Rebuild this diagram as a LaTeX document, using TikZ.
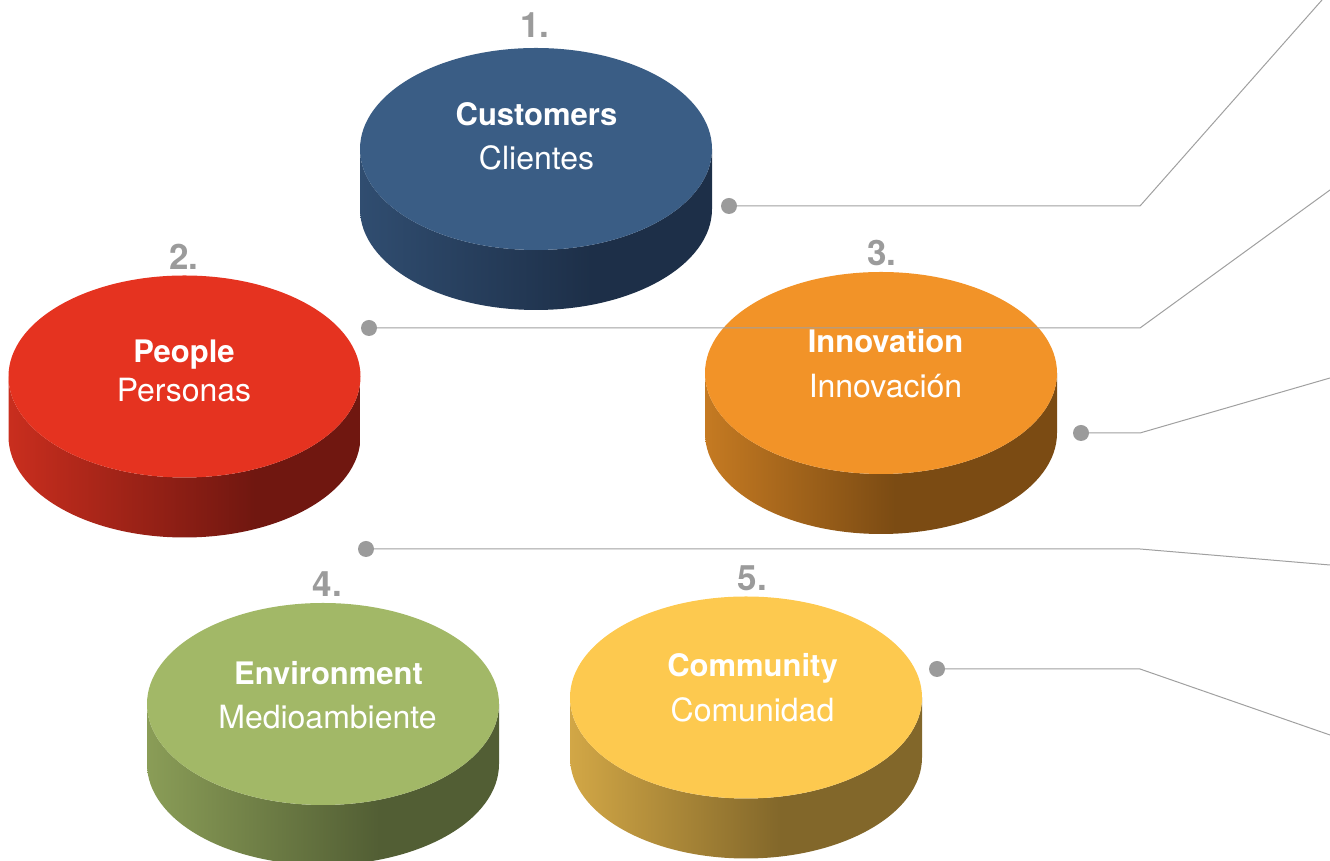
\documentclass[tikz,border=0pt]{standalone}
\usepackage{fontspec}
\setmainfont{TeX Gyre Heros}
\definecolor{blueT}{HTML}{3A5D85}
\definecolor{blueL}{HTML}{304D70}
\definecolor{blueD}{HTML}{1D2F48}
\definecolor{redT}{HTML}{E53320}
\definecolor{redL}{HTML}{C92E1E}
\definecolor{redD}{HTML}{701710}
\definecolor{orT}{HTML}{F29328}
\definecolor{orL}{HTML}{C57A22}
\definecolor{orD}{HTML}{7B4B13}
\definecolor{grT}{HTML}{A2B867}
\definecolor{grL}{HTML}{8A9D57}
\definecolor{grD}{HTML}{525E34}
\definecolor{yeT}{HTML}{FDC94F}
\definecolor{yeL}{HTML}{D2A746}
\definecolor{yeD}{HTML}{82672A}
\definecolor{numgray}{HTML}{9B9B9B}
\definecolor{linegray}{HTML}{A0A0A0}
\pgfdeclarehorizontalshading{sideblue}{100bp}{color(0bp)=(blueL); color(25bp)=(blueL); color(58bp)=(blueD); color(100bp)=(blueD)}
\pgfdeclarehorizontalshading{sidered}{100bp}{color(0bp)=(redL); color(25bp)=(redL); color(60bp)=(redD); color(100bp)=(redD)}
\pgfdeclarehorizontalshading{sideor}{100bp}{color(0bp)=(orL); color(25bp)=(orL); color(52bp)=(orD); color(100bp)=(orD)}
\pgfdeclarehorizontalshading{sidegr}{100bp}{color(0bp)=(grL); color(25bp)=(grL); color(58bp)=(grD); color(100bp)=(grD)}
\pgfdeclarehorizontalshading{sideye}{100bp}{color(0bp)=(yeL); color(25bp)=(yeL); color(55bp)=(yeD); color(100bp)=(yeD)}
\newcommand\mydisc[4]{%
  \path[shade,shading=#4] (#1-176,#2) -- ++(0,-60)
    arc[start angle=180,end angle=360,x radius=176,y radius=101]
    -- ++(0,60)
    arc[start angle=0,end angle=-180,x radius=176,y radius=101] -- cycle;
  \fill[#3] (#1,#2) ellipse[x radius=176,y radius=101];}
\tikzset{
  boldlabel/.style={text=white,anchor=base,inner sep=0pt,font=\fontsize{15.5}{18}\selectfont\bfseries},
  reglabel/.style={text=white,anchor=base,inner sep=0pt,font=\fontsize{16}{18}\selectfont},
  numlabel/.style={text=numgray,anchor=base,inner sep=0pt,font=\fontsize{17.5}{20}\selectfont\bfseries},
  dotnode/.style={circle,fill=numgray,inner sep=0pt,minimum size=8pt},
  leader/.style={draw=linegray,line width=0.5pt}
}
\begin{document}
\begin{tikzpicture}[x=0.5pt,y=0.5pt]
\useasboundingbox (0,0) rectangle (1330,861);
% discs
\mydisc{536}{712}{blueT}{sideblue}
\mydisc{184.5}{484.5}{redT}{sidered}
\mydisc{881}{488}{orT}{sideor}
\mydisc{323}{157}{grT}{sidegr}
\mydisc{746}{163.5}{yeT}{sideye}
% numbers
\node[numlabel] (n1) at (535,823) {1.};
\node[numlabel] (n2) at (184,591) {2.};
\node[numlabel] (n3) at (882,595) {3.};
\node[numlabel] (n4) at (327.5,264) {4.};
\node[numlabel] (n5) at (752.5,270) {5.};
% labels
\node[boldlabel] (t1a) at (536.5,735) {Customers};
\node[reglabel]  (t1b) at (536.5,691) {Clientes};
\node[boldlabel] (t2a) at (184,498) {People};
\node[reglabel]  (t2b) at (184,459) {Personas};
\node[boldlabel] (t3a) at (885.5,508) {Innovation};
\node[reglabel]  (t3b) at (885.5,463) {Innovación};
\node[boldlabel] (t4a) at (328.5,176) {Environment};
\node[reglabel]  (t4b) at (327.5,132) {Medioambiente};
\node[boldlabel] (t5a) at (752.5,184) {Community};
\node[reglabel]  (t5b) at (752.5,139) {Comunidad};
% leader lines
\coordinate (k1) at (1140,655); \coordinate (e1) at (1322,861);
\coordinate (k2) at (1140,533); \coordinate (e2) at (1330,671);
\coordinate (k3) at (1140,428); \coordinate (e3) at (1330,483);
\coordinate (k4) at (1140,312); \coordinate (e4) at (1330,296);
\coordinate (k5) at (1140,192); \coordinate (e5) at (1330,126);
\coordinate (p1) at (729,655);
\coordinate (p2) at (369,533);
\coordinate (p3) at (1081,428);
\coordinate (p4) at (366,312);
\coordinate (p5) at (937,192);
\draw[leader] (p1) -- (k1) -- (e1);
\draw[leader] (p2) -- (k2) -- (e2);
\draw[leader] (p3) -- (k3) -- (e3);
\draw[leader] (p4) -- (k4) -- (e4);
\draw[leader] (p5) -- (k5) -- (e5);
\node[dotnode] (d1) at (p1) {};
\node[dotnode] (d2) at (p2) {};
\node[dotnode] (d3) at (p3) {};
\node[dotnode] (d4) at (p4) {};
\node[dotnode] (d5) at (p5) {};
\end{tikzpicture}
\end{document}
